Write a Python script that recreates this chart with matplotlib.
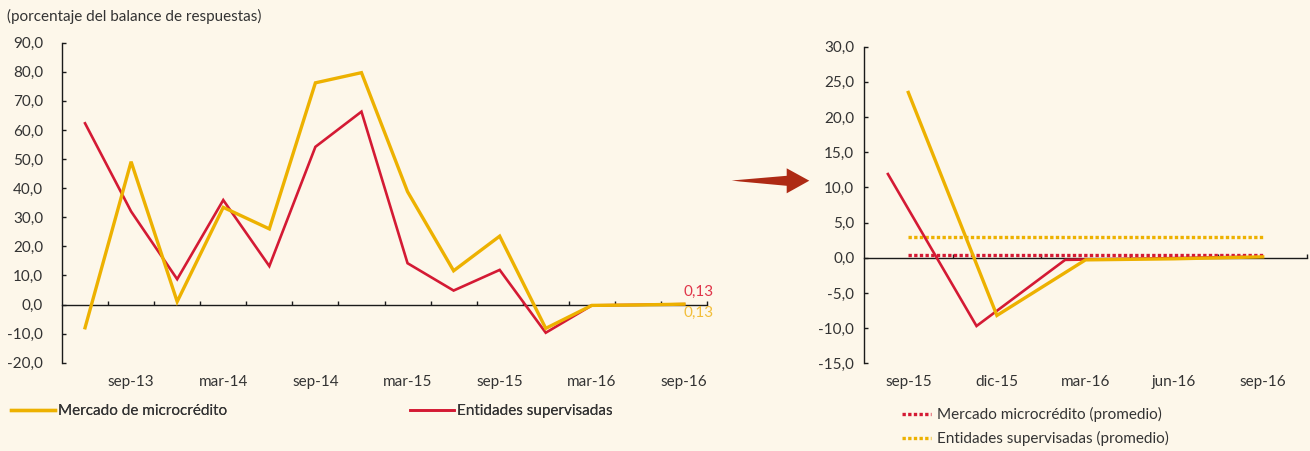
import numpy as np
import matplotlib
matplotlib.use("Agg")
import matplotlib.pyplot as plt
from matplotlib.patches import Polygon

plt.rcParams['font.family'] = ['Lato', 'DejaVu Sans']

# ---------------- data ----------------
periods = ["jun-13", "sep-13", "dic-13", "mar-14", "jun-14", "sep-14", "dic-14",
           "mar-15", "jun-15", "sep-15", "dic-15", "mar-16", "jun-16", "sep-16"]
left_tick_labels = ["sep-13", "mar-14", "sep-14", "mar-15", "sep-15", "mar-16", "sep-16"]
mercado = [-8.0, 49.1, 1.0, 33.4, 26.0, 76.2, 79.7, 38.8, 11.6, 23.5, -8.2, -0.3, -0.15, 0.13]
entidades = [62.3, 32.0, 8.7, 35.9, 13.2, 54.2, 66.3, 14.2, 4.8, 11.9, -9.7, -0.3, -0.1, 0.13]
last_label = "0,13"

right_periods = ["sep-15", "dic-15", "mar-16", "jun-16", "sep-16"]
left_yticks = [-20, -10, 0, 10, 20, 30, 40, 50, 60, 70, 80, 90]
right_yticks = [-15, -10, -5, 0, 5, 10, 15, 20, 25, 30]

title = "(porcentaje del balance de respuestas)"
lbl_mercado = "Mercado de microcrédito"
lbl_entidades = "Entidades supervisadas"
lbl_mercado_prom = "Mercado microcrédito (promedio)"
lbl_entidades_prom = "Entidades supervisadas (promedio)"

# ---------------- style ----------------
BG = "#FDF7EA"
YEL = "#EDB100"
RED = "#D41A34"
TXT = "#333333"
AX = "#1a1a1a"
W, H = 1310, 451
FS = 11


def fx(px):
    return px / W


def fy(py):
    return 1 - py / H


def fmt(v):
    return f"{v:.1f}".replace(".", ",")


fig = plt.figure(figsize=(W / 100, H / 100), dpi=100, facecolor=BG)

# ---------------- left chart ----------------
ax1 = fig.add_axes([fx(62), fy(362.7), fx(707 - 62), (362.7 - 42.7) / H])
ax1.set_facecolor(BG)
x1 = np.arange(len(periods))
l_ent, = ax1.plot(x1, entidades, color=RED, lw=1.9, solid_joinstyle='miter', zorder=3)
l_mer, = ax1.plot(x1, mercado, color=YEL, lw=2.4, solid_joinstyle='miter', zorder=4)
ax1.set_xlim(-0.5, len(periods) - 0.5)
ax1.set_ylim(left_yticks[0], left_yticks[-1])
for s in ["top", "right", "bottom"]:
    ax1.spines[s].set_visible(False)
ax1.spines["left"].set_color(AX)
ax1.spines["left"].set_linewidth(1.0)
ax1.set_yticks(left_yticks)
ax1.set_yticklabels([fmt(v) for v in left_yticks])
ax1.tick_params(axis='y', direction='in', length=3.2, width=1.0, color=AX,
                labelsize=FS, labelcolor=TXT, pad=13.5)
lab_pos = [periods.index(p) for p in left_tick_labels]
ax1.set_xticks(lab_pos)
ax1.set_xticklabels(left_tick_labels)
ax1.tick_params(axis='x', length=0, labelsize=FS, labelcolor=TXT, pad=8.5)

sec1 = ax1.secondary_xaxis((0 - left_yticks[0]) / (left_yticks[-1] - left_yticks[0]))
sec1.set_xticks(np.arange(len(periods)) + 0.5)
sec1.tick_params(direction='in', length=3.2, width=1.0, color=AX, labelbottom=False, labeltop=False)
sec1.spines["bottom"].set_color(AX)
sec1.spines["bottom"].set_linewidth(1.0)

ax1.annotate(last_label, xy=(x1[-1], entidades[-1]), xytext=(0, 9), textcoords='offset points',
             color="#E0354A", fontsize=FS, ha='left', va='center', zorder=5)
ax1.annotate(last_label, xy=(x1[-1], mercado[-1]), xytext=(0, -6.5), textcoords='offset points',
             color="#F2BE3A", fontsize=FS, ha='left', va='center', zorder=5)

fig.text(fx(7), fy(16), title, fontsize=FS, color=TXT, ha='left', va='center')

# ---------------- right chart ----------------
n = len(right_periods)
ax2 = fig.add_axes([fx(864), fy(363.3), fx(1307 - 864), (363.3 - 46.7) / H])
ax2.set_facecolor(BG)
x2 = np.arange(n)
mer_r = mercado[-n:]
ent_r = entidades[-n:]
red_offset = -0.23
ax2.plot(x2 + red_offset, ent_r, color=RED, lw=1.9, solid_joinstyle='miter', zorder=3)
ax2.plot(x2, mer_r, color=YEL, lw=2.4, solid_joinstyle='miter', zorder=4)
d_ent, = ax2.plot([x2[0], x2[-1]], [np.mean(ent_r)] * 2, color=RED, lw=2.4,
                  linestyle=(0, (1.0, 0.7)), dash_capstyle='butt', zorder=2)
d_mer, = ax2.plot([x2[0], x2[-1]], [np.mean(mer_r)] * 2, color=YEL, lw=2.4,
                  linestyle=(0, (1.0, 0.7)), dash_capstyle='butt', zorder=2)
ax2.set_xlim(-0.5, n - 0.5)
ax2.set_ylim(right_yticks[0], right_yticks[-1])
for s in ["top", "right", "bottom"]:
    ax2.spines[s].set_visible(False)
ax2.spines["left"].set_color(AX)
ax2.spines["left"].set_linewidth(1.0)
ax2.set_yticks(right_yticks)
ax2.set_yticklabels([fmt(v) for v in right_yticks])
ax2.tick_params(axis='y', direction='in', length=3.2, width=1.0, color=AX,
                labelsize=FS, labelcolor=TXT, pad=7)
ax2.set_xticks(x2)
ax2.set_xticklabels(right_periods)
ax2.tick_params(axis='x', length=0, labelsize=FS, labelcolor=TXT, pad=8.5)

sec2 = ax2.secondary_xaxis((0 - right_yticks[0]) / (right_yticks[-1] - right_yticks[0]))
sec2.set_xticks(np.arange(n) + 0.5)
sec2.tick_params(direction='in', length=3.2, width=1.0, color=AX, labelbottom=False, labeltop=False)
sec2.spines["bottom"].set_color(AX)
sec2.spines["bottom"].set_linewidth(1.0)

# ---------------- legends ----------------
leg_kw = dict(frameon=False, fontsize=FS, borderpad=0, borderaxespad=0,
              labelcolor=TXT, loc='center left')
lg1 = fig.legend([l_mer], [lbl_mercado], bbox_to_anchor=(fx(10.5), fy(411)),
                 handlelength=2.88, handletextpad=0.22, **leg_kw)
lg2 = fig.legend([l_ent], [lbl_entidades], bbox_to_anchor=(fx(410), fy(411)),
                 handlelength=2.88, handletextpad=0.22, **leg_kw)
lg3 = fig.legend([d_ent, d_mer], [lbl_mercado_prom, lbl_entidades_prom],
                 bbox_to_anchor=(fx(901.7), fy(426.5)),
                 handlelength=1.9, handletextpad=0.43, labelspacing=0.6, **leg_kw)
fig.add_artist(lg1)
fig.add_artist(lg2)

# ---------------- arrow ----------------
arrow_px = [(731.7, 180.5), (786.7, 175.8), (786.7, 168.3), (809.3, 180.7),
            (786.7, 193.3), (786.7, 185.8), (740, 181.5)]
arrow = Polygon([(fx(a), fy(b)) for a, b in arrow_px], closed=True,
                transform=fig.transFigure, facecolor="#AE2A14", edgecolor='none')
fig.add_artist(arrow)

fig.savefig("out.png", dpi=100, facecolor=BG)
